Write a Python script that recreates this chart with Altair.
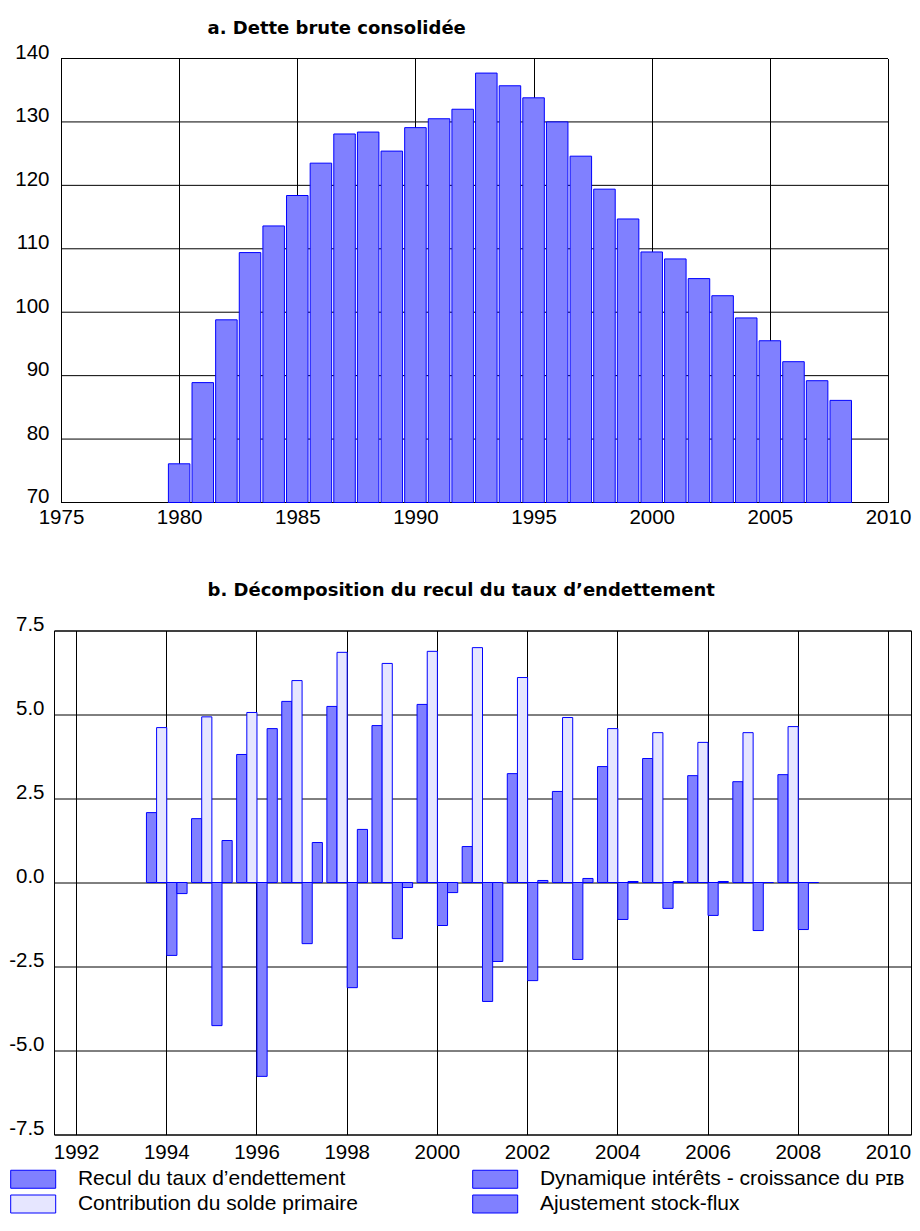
import altair as alt
import pandas as pd

# ---------------- Panel a : Dette brute consolidée ----------------
annees_a = list(range(1980, 2009))
dette = [76.1, 88.9, 98.8, 109.4, 113.6, 118.4, 123.5, 128.1, 128.4, 125.4,
         129.1, 130.5, 132.0, 137.7, 135.7, 133.8, 130.0, 124.6, 119.4, 114.7,
         109.5, 108.4, 105.3, 102.6, 99.1, 95.5, 92.2, 89.2, 86.1]
graduations_x_a = [1975, 1980, 1985, 1990, 1995, 2000, 2005, 2010]
graduations_y_a = [70, 80, 90, 100, 110, 120, 130, 140]

# ---------------- Panel b : Décomposition ----------------
annees_b = list(range(1994, 2009))
recul = [2.08, 1.90, 3.81, 5.39, 5.24, 4.67, 5.30, 1.07, 3.24, 2.71, 3.45, 3.69, 3.18, 3.00, 3.21]
contribution = [4.61, 4.93, 5.06, 6.01, 6.85, 6.52, 6.88, 6.99, 6.10, 4.91, 4.58, 4.46, 4.17, 4.46, 4.64]
dynamique = [-2.17, -4.26, -5.77, -1.82, -3.13, -1.67, -1.28, -3.54, -2.92, -2.29, -1.10, -0.77, -0.98, -1.43, -1.40]
ajustement = [-0.33, 1.25, 4.58, 1.19, 1.58, -0.15, -0.30, -2.35, 0.06, 0.12, 0.03, 0.03, 0.03, 0.0, 0.0]
domaine_x_b = list(range(1992, 2011))
graduations_x_b = list(range(1992, 2011, 2))
graduations_y_b = [-7.5, -5.0, -2.5, 0.0, 2.5, 5.0, 7.5]

s_recul = "Recul du taux d’endettement"
s_contrib = "Contribution du solde primaire"
s_dyn = "Dynamique intérêts - croissance du ᴘɪʙ"
s_ajust = "Ajustement stock-flux"
ordre_barres = [s_recul, s_contrib, s_dyn, s_ajust]
couleurs = ["#8080FF", "#E6E6FF", "#8080FF", "#8080FF"]

FONT = "Liberation Sans"
TITLE_FONT = "DejaVu Sans"
STROKE = "#0000FF"
FILL = "#8080FF"
W_A, H_A = 834, 444
W_B, H_B = 857, 504
# panel a starts 7 px to the right of panel b: extend its domain a little to the left
X0_A = 1975 - 7 / ((W_A - 7) / 35)

# ---------------- tables ----------------
df_a = pd.DataFrame({"annee": annees_a, "dette": dette})
df_grid_a = pd.DataFrame({"niveau": graduations_y_a})

rows = []
for serie, vals in zip(ordre_barres, [recul, contribution, dynamique, ajustement]):
    for a, v in zip(annees_b, vals):
        rows.append({"annee": a, "serie": serie, "valeur": v})
df_b = pd.DataFrame(rows)

# ---------------- chart a ----------------
x_scale_a = alt.Scale(domain=[X0_A, 2010], nice=False, zero=False, padding=0)
x_a = alt.X(
    "annee:Q",
    scale=x_scale_a,
    axis=alt.Axis(title=None, values=graduations_x_a, format="d", grid=True,
                  gridColor="#000000", gridWidth=1, gridOpacity=1, domain=False,
                  ticks=False, labelFlush=False, labelOverlap=False, labelPadding=5,
                  labelFontSize=20.5, labelColor="#000000"),
)
y_scale_a = alt.Scale(domain=[70, 140], nice=False, zero=False, padding=0)
y_a = alt.Y(
    "dette:Q",
    scale=y_scale_a,
    axis=alt.Axis(title=None, values=graduations_y_a, grid=False, domain=False,
                  ticks=False, labelBaseline="alphabetic", labelPadding=5,
                  labelFontSize=20.5, labelColor="#000000", labelFlush=False,
                  labelOverlap=False),
)

grid_a = alt.Chart(df_grid_a).mark_rule(color="#000000", strokeWidth=1).encode(
    y=alt.Y("niveau:Q", scale=y_scale_a),
    x=alt.datum(1975),
    x2=alt.datum(2010),
)
bars_a = alt.Chart(df_a).mark_bar(size=21.5, fill=FILL, stroke=STROKE, strokeWidth=1).encode(
    x=x_a,
    y=y_a,
    y2=alt.datum(70),
)
chart_a = alt.layer(grid_a, bars_a).properties(
    width=W_A,
    height=H_A,
    view=alt.ViewBackground(stroke="transparent"),
    title=alt.Title("a. Dette brute consolidée", anchor="start", frame="group",
                    dx=153.5, fontSize=18, fontWeight="bold", color="#000000",
                    font=TITLE_FONT, offset=5),
)

# ---------------- chart b ----------------
x_b = alt.X(
    "annee:O",
    scale=alt.Scale(domain=domaine_x_b, paddingInner=0, paddingOuter=0),
    axis=alt.Axis(title=None, values=graduations_x_b, bandPosition=0.5, grid=True,
                  gridColor="#000000", gridWidth=1, gridOpacity=1, domain=False,
                  ticks=False, labelAngle=0, labelPadding=7.5, labelFontSize=20.5,
                  labelColor="#000000", labelOverlap=False),
)
y_b = alt.Y(
    "valeur:Q",
    scale=alt.Scale(domain=[-7.5, 7.5], nice=False, zero=False, padding=0),
    axis=alt.Axis(title=None, values=graduations_y_b, grid=True, gridColor="#000000",
                  gridWidth=1, gridOpacity=1, domain=False, ticks=False,
                  labelBaseline="alphabetic", labelPadding=10, labelFontSize=20.5,
                  labelColor="#000000", labelFlush=False, labelOverlap=False,
                  labelExpr="datum.value < 0 ? '-' + format(-datum.value, '.1f') : format(datum.value, '.1f')"),
)
chart_b = alt.Chart(df_b).mark_bar(stroke=STROKE, strokeWidth=1).encode(
    x=x_b,
    xOffset=alt.XOffset("serie:N", sort=ordre_barres,
                        scale=alt.Scale(domain=ordre_barres, paddingInner=0, paddingOuter=0.22)),
    y=y_b,
    y2=alt.datum(0),
    color=alt.Color(
        "serie:N",
        scale=alt.Scale(domain=ordre_barres, range=couleurs),
        legend=alt.Legend(title=None, orient="none", legendX=-44.8, legendY=538,
                          columns=2, columnPadding=112, rowPadding=2,
                          symbolType="M-1,-1H4V1H-1Z", symbolSize=324,
                          symbolStrokeColor=STROKE, symbolStrokeWidth=1,
                          labelFontSize=21, labelColor="#000000", labelOffset=47.7,
                          labelLimit=500, padding=0),
    ),
).properties(
    width=W_B,
    height=H_B,
    view=alt.ViewBackground(stroke="#000000", strokeWidth=1),
    title=alt.Title("b. Décomposition du recul du taux d’endettement", anchor="start",
                    frame="group", dx=153.5, fontSize=18, fontWeight="bold",
                    color="#000000", font=TITLE_FONT, offset=14.5),
)

chart = alt.vconcat(chart_a, chart_b, spacing=53).resolve_legend(
    color="independent"
).properties(
    padding={"left": 0, "top": 10.5, "right": 0, "bottom": 0}
).configure(font=FONT).configure_axis(labelFont=FONT).configure_legend(
    labelFont=FONT
)

chart.save("out.html", embed_options={"renderer": "svg", "actions": False})
